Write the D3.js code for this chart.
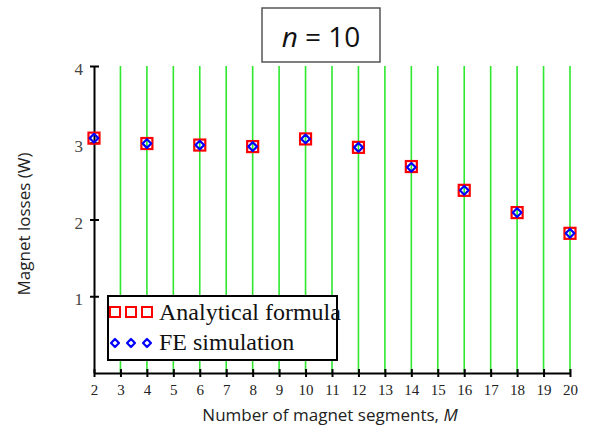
<!DOCTYPE html>
<html>
<head>
<meta charset="utf-8">
<script src="https://cdn.jsdelivr.net/npm/d3@7"></script>
<style>
  body { margin: 0; background: #fff; }
  svg { display: block; }
</style>
</head>
<body>
<div id="chart"></div>
<script>
// data
var segments = [2, 4, 6, 8, 10, 12, 14, 16, 18, 20];
var analytical = [3.06, 2.99, 2.97, 2.95, 3.05, 2.94, 2.69, 2.38, 2.09, 1.82];
var feSimulation = [3.06, 2.99, 2.97, 2.95, 3.05, 2.94, 2.68, 2.38, 2.09, 1.82];
var xTicks = d3.range(2, 21);
var yTicks = [1, 2, 3, 4];

var width = 591, height = 429;
var svg = d3.select("#chart").append("svg")
  .attr("width", width)
  .attr("height", height);

var x = d3.scaleLinear().domain([2, 20]).range([94, 570]);
var y = d3.scaleLinear().domain([0, 4]).range([373, 66]);

// green vertical grid
svg.append("g").selectAll("line")
  .data(xTicks.filter(function(d) { return d > 2; }))
  .join("line")
    .attr("x1", function(d) { return x(d); })
    .attr("x2", function(d) { return x(d); })
    .attr("y1", y(4))
    .attr("y2", y(0))
    .attr("stroke", "#2ee82e")
    .attr("stroke-width", 1.6);

// x axis
var xAxis = svg.append("g")
  .attr("transform", "translate(0," + y(0) + ")")
  .call(d3.axisBottom(x).tickValues(xTicks).tickFormat(d3.format("d")).tickSize(0).tickPadding(11));
xAxis.select(".domain").attr("stroke", "#000").attr("stroke-width", 2);
xAxis.selectAll(".tick line").remove();
xAxis.selectAll(".tick").append("line")
  .attr("y1", -4).attr("y2", 4)
  .attr("stroke", "#000").attr("stroke-width", 2);
xAxis.selectAll("text")
  .attr("font-family", "Liberation Serif")
  .attr("font-size", 15)
  .attr("fill", "#222");

// y axis
var yAxis = svg.append("g")
  .attr("transform", "translate(" + x(2) + ",0)")
  .call(d3.axisLeft(y).tickValues(yTicks).tickFormat(d3.format("d")).tickSize(0).tickPadding(11));
yAxis.select(".domain").attr("stroke", "#000").attr("stroke-width", 2);
yAxis.selectAll(".tick line").remove();
yAxis.selectAll(".tick").append("line")
  .attr("x1", -4).attr("x2", 5)
  .attr("stroke", "#000").attr("stroke-width", 2);
yAxis.selectAll("text")
  .attr("font-family", "Liberation Serif")
  .attr("font-size", 17)
  .attr("fill", "#444")
  .attr("dy", "0.5em");

// analytical: red squares
svg.append("g").selectAll("rect")
  .data(segments)
  .join("rect")
    .attr("x", function(d) { return x(d) - 5.5; })
    .attr("y", function(d, i) { return y(analytical[i]) - 5.5; })
    .attr("width", 11)
    .attr("height", 11)
    .attr("fill", "none")
    .attr("stroke", "#ff0000")
    .attr("stroke-width", 2.2);

// FE simulation: blue diamonds
var diamond = d3.symbol().type(d3.symbolDiamond2).size(48);
svg.append("g").selectAll("path")
  .data(segments)
  .join("path")
    .attr("d", diamond)
    .attr("transform", function(d, i) {
      return "translate(" + x(d) + "," + y(feSimulation[i]) + ")";
    })
    .attr("fill", "none")
    .attr("stroke", "#0000ff")
    .attr("stroke-width", 2.2)
    .attr("stroke-linejoin", "round");

// legend
var legend = svg.append("g");
legend.append("rect")
  .attr("x", 108).attr("y", 296)
  .attr("width", 229).attr("height", 64)
  .attr("fill", "#fff")
  .attr("stroke", "#000")
  .attr("stroke-width", 2);
[0, 1, 2].forEach(function(k) {
  var cx = 115 + k * 16;
  legend.append("rect")
    .attr("x", cx - 5).attr("y", 307)
    .attr("width", 10).attr("height", 10)
    .attr("fill", "none")
    .attr("stroke", "#ff0000")
    .attr("stroke-width", 2);
  legend.append("path")
    .attr("d", d3.symbol().type(d3.symbolDiamond2).size(40)())
    .attr("transform", "translate(" + cx + ",343)")
    .attr("fill", "none")
    .attr("stroke", "#0000ff")
    .attr("stroke-width", 2.2)
    .attr("stroke-linejoin", "round");
});
legend.append("text")
  .attr("x", 159).attr("y", 320)
  .attr("font-family", "Liberation Serif")
  .attr("font-size", 24)
  .attr("fill", "#111")
  .text("Analytical formula");
legend.append("text")
  .attr("x", 159).attr("y", 350)
  .attr("font-family", "Liberation Serif")
  .attr("font-size", 24)
  .attr("fill", "#111")
  .text("FE simulation");

// title box
svg.append("rect")
  .attr("x", 262).attr("y", 8)
  .attr("width", 118).attr("height", 54)
  .attr("fill", "#fff")
  .attr("stroke", "#555")
  .attr("stroke-width", 1.5);
var title = svg.append("text")
  .attr("x", 321).attr("y", 47)
  .attr("text-anchor", "middle")
  .attr("font-family", "Open Sans")
  .attr("font-size", 28)
  .attr("fill", "#111");
title.append("tspan").attr("font-style", "italic").text("n");
title.append("tspan").text(" = 10");

// axis titles
svg.append("text")
  .attr("transform", "translate(30,224) rotate(-90)")
  .attr("text-anchor", "middle")
  .attr("font-family", "Open Sans")
  .attr("font-size", 17)
  .attr("fill", "#222")
  .text("Magnet losses (W)");
var xt = svg.append("text")
  .attr("x", 330).attr("y", 421)
  .attr("text-anchor", "middle")
  .attr("font-family", "Open Sans")
  .attr("font-size", 17)
  .attr("fill", "#222");
xt.append("tspan").text("Number of magnet segments, ");
xt.append("tspan").attr("font-style", "italic").text("M");
</script>
</body>
</html>
